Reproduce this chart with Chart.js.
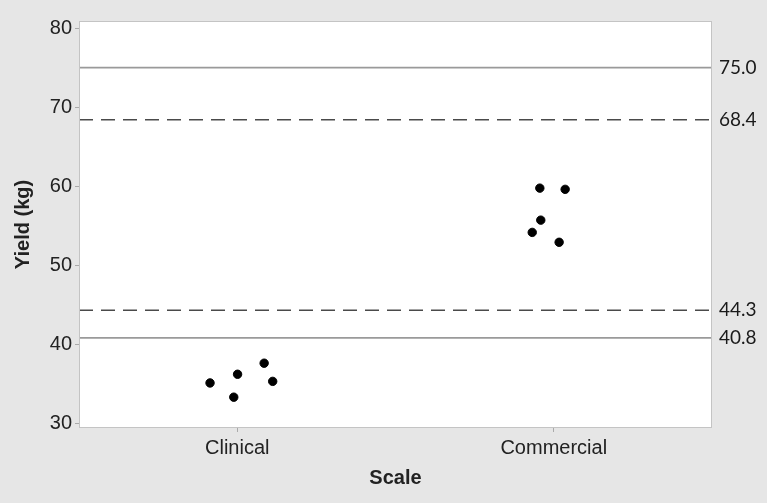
<!DOCTYPE html>
<html>
<head>
<meta charset="utf-8">
<script src="https://cdn.jsdelivr.net/npm/chart.js@4/dist/chart.umd.min.js"></script>
<style>
  html, body { margin: 0; padding: 0; background: #e6e6e6; }
  #wrap { width: 767px; height: 503px; position: relative; }
</style>
</head>
<body>
<div id="wrap"><canvas id="c" width="767" height="503"></canvas></div>
<script>
// Categories on the x axis
const categories = ['Clinical', 'Commercial'];

// Yields (kg) for each batch, with the horizontal jitter offset used to spread the dots
const clinicalYield = [35.1, 33.3, 36.2, 37.6, 35.3];
const clinicalJitter = [-0.086, -0.011, 0.001, 0.085, 0.112];
const commercialYield = [59.75, 59.6, 55.7, 54.15, 52.9];
const commercialJitter = [-0.044, 0.036, -0.041, -0.068, 0.017];

// Limit lines: outer (solid) and inner (dashed)
const outerLimits = [75.0, 40.8];
const innerLimits = [68.4, 44.3];

// Y axis ticks
const yTicks = [30, 40, 50, 60, 70, 80];

const toPoints = (vals, jit, cat) => vals.map((v, i) => ({ x: cat + jit[i], y: v }));
const hLine = v => [{ x: -0.5, y: v }, { x: 1.5, y: v }];

const datasets = [];
outerLimits.forEach(v => datasets.push({
  type: 'line', data: hLine(v), borderColor: '#9a9a9a', borderWidth: 1.6,
  pointRadius: 0, fill: false, limitLabel: v
}));
innerLimits.forEach(v => datasets.push({
  type: 'line', data: hLine(v), borderColor: '#4a4a4a', borderWidth: 1.4,
  borderDash: [14, 8], pointRadius: 0, fill: false, limitLabel: v
}));
datasets.push({
  type: 'scatter', data: toPoints(clinicalYield, clinicalJitter, 0),
  backgroundColor: '#000', borderColor: '#000', pointRadius: 4.2
});
datasets.push({
  type: 'scatter', data: toPoints(commercialYield, commercialJitter, 1),
  backgroundColor: '#000', borderColor: '#000', pointRadius: 4.2
});

const AXIS_FONT = '"Liberation Sans", Arial, sans-serif';

// White plot area behind the data, and limit values written past the right edge
const plotFrame = {
  id: 'plotFrame',
  beforeDraw(chart) {
    const { ctx, chartArea: a } = chart;
    ctx.save();
    ctx.fillStyle = '#ffffff';
    ctx.fillRect(a.left, a.top, a.right - a.left, a.bottom - a.top);
    ctx.restore();
  },
  afterDraw(chart) {
    const { ctx, chartArea: a } = chart;
    const y = chart.scales.y;
    ctx.save();
    ctx.strokeStyle = '#c4c4c4';
    ctx.lineWidth = 1;
    ctx.strokeRect(a.left + 0.5, a.top + 0.5, a.right - a.left - 1, a.bottom - a.top - 1);
    ctx.fillStyle = '#1a1a1a';
    ctx.font = '19px Lato, "Open Sans", sans-serif';
    ctx.textBaseline = 'middle';
    ctx.textAlign = 'left';
    chart.data.datasets.forEach(ds => {
      if (ds.limitLabel === undefined) return;
      ctx.fillText(ds.limitLabel.toFixed(1), a.right + 7, y.getPixelForValue(ds.limitLabel));
    });
    ctx.restore();
  }
};

new Chart(document.getElementById('c'), {
  data: { datasets },
  plugins: [plotFrame],
  options: {
    responsive: false,
    animation: false,
    events: [],
    layout: { padding: { top: 21, right: 55, left: 0, bottom: 0 } },
    plugins: { legend: { display: false }, tooltip: { enabled: false } },
    scales: {
      x: {
        type: 'linear', min: -0.5, max: 1.5,
        afterBuildTicks: s => { s.ticks = categories.map((_, i) => ({ value: i })); },
        afterFit: s => { s.height = 75; },
        ticks: {
          callback: v => categories[v],
          color: '#222', font: { family: AXIS_FONT, size: 20 },
          padding: 4, maxRotation: 0
        },
        grid: { display: true, drawOnChartArea: false, drawTicks: true, tickLength: 4, color: '#aaa' },
        border: { display: false },
        title: {
          display: true, text: 'Scale', color: '#222',
          font: { family: AXIS_FONT, size: 20, weight: 'bold' },
          padding: { top: 0, bottom: 13 }
        }
      },
      y: {
        min: 29.4, max: 80.9,
        afterBuildTicks: s => { s.ticks = yTicks.map(v => ({ value: v })); },
        afterFit: s => { s.width = 79; },
        ticks: {
          color: '#222', font: { family: AXIS_FONT, size: 20 },
          padding: 3
        },
        grid: { display: true, drawOnChartArea: false, drawTicks: true, tickLength: 4, color: '#aaa' },
        border: { display: false },
        title: {
          display: true, text: 'Yield (kg)', color: '#222',
          font: { family: AXIS_FONT, size: 20, weight: 'bold' },
          padding: { top: 11, bottom: 0 }
        }
      }
    }
  }
});
</script>
</body>
</html>
